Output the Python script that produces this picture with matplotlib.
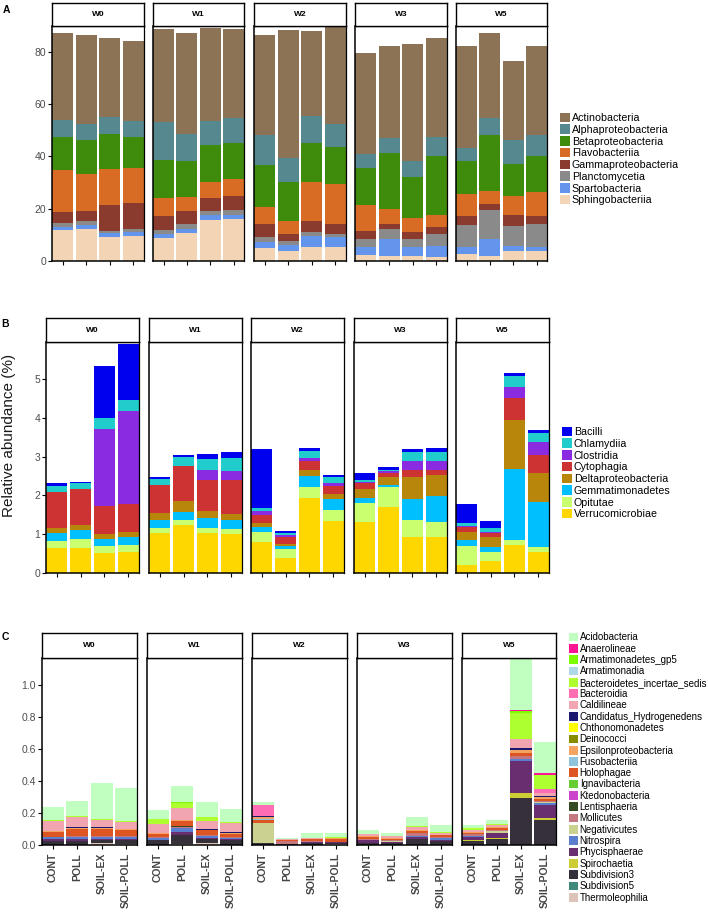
import numpy as np
import matplotlib
matplotlib.use("Agg")
import matplotlib.pyplot as plt
from matplotlib.patches import Patch

plt.rcParams['font.family'] = ['Liberation Sans', 'DejaVu Sans']

W, H = 708, 916

weeks = ["W0", "W1", "W2", "W3", "W5"]
treatments = ["CONT", "POLL", "SOIL-EX", "SOIL-POLL"]

# ---- panel A: dominant classes (%), 4 treatments per week ----
a_taxa = ["Actinobacteria", "Alphaproteobacteria", "Betaproteobacteria", "Flavobacteriia",
          "Gammaproteobacteria", "Planctomycetia", "Spartobacteria", "Sphingobacteriia"]
a_colors = ["#8c7356", "#56898f", "#3f8b0c", "#d86c24", "#8b3a2e", "#8a8a8a", "#6495ed", "#f3d4b5"]
actinobacteria = [33.4, 34.1, 30.3, 30.6, 35.6, 38.7, 35.7, 33.9, 38.0, 49.2, 32.7, 37.4,
                  38.4, 35.1, 44.8, 37.8, 38.8, 32.7, 30.2, 34.0]
alphaproteobacteria = [6.5, 6.4, 6.2, 6.2, 14.6, 10.3, 9.1, 9.7, 11.6, 9.0, 10.1, 8.7,
                       5.6, 5.9, 6.1, 7.2, 5.1, 6.4, 9.2, 7.9]
betaproteobacteria = [12.6, 12.8, 13.5, 12.1, 14.5, 13.9, 14.1, 13.5, 15.9, 15.1, 15.0, 14.5,
                      14.1, 21.4, 15.6, 22.7, 12.6, 21.4, 12.2, 14.0]
flavobacteriia = [16.2, 14.1, 13.7, 13.3, 6.8, 5.4, 6.1, 6.6, 6.8, 4.7, 15.1, 15.2,
                  10.0, 5.6, 5.3, 4.5, 8.3, 5.0, 7.4, 9.0]
gammaproteobacteria = [3.9, 3.9, 10.2, 9.7, 5.3, 5.1, 5.2, 5.4, 4.8, 2.7, 4.2, 3.9,
                       2.8, 2.1, 2.7, 2.8, 3.5, 2.2, 4.1, 3.3]
planctomycetia = [1.6, 1.7, 0.7, 1.4, 1.5, 1.9, 1.4, 1.8, 1.9, 1.7, 1.6, 1.1,
                  3.0, 3.9, 3.2, 4.3, 8.6, 11.1, 7.8, 8.8]
spartobacteria = [1.2, 1.5, 1.6, 1.4, 1.7, 1.5, 1.9, 1.6, 2.5, 2.1, 4.0, 3.7,
                  3.2, 6.4, 3.3, 4.2, 2.7, 6.6, 1.9, 1.4]
sphingobacteriia = [11.9, 12.1, 9.0, 9.6, 8.8, 10.6, 15.7, 16.1, 4.8, 4.0, 5.4, 5.4,
                    2.3, 1.9, 1.9, 1.7, 2.5, 1.9, 3.8, 3.8]

# ---- panel B: intermediate classes (%) ----
b_taxa = ["Bacilli", "Chlamydiia", "Clostridia", "Cytophagia", "Deltaproteobacteria",
          "Gemmatimonadetes", "Opitutae", "Verrucomicrobiae"]
b_colors = ["#0000ee", "#20cccc", "#8a2be2", "#cd3333", "#b8860b", "#00bfff", "#caff70", "#ffd700"]
bacilli = [0.06, 0.04, 1.34, 1.44, 0.05, 0.04, 0.15, 0.15, 1.53, 0.04, 0.09, 0.06,
           0.19, 0.07, 0.08, 0.11, 0.47, 0.20, 0.06, 0.07]
chlamydiia = [0.16, 0.15, 0.28, 0.27, 0.16, 0.23, 0.28, 0.32, 0.08, 0.06, 0.18, 0.15,
              0.05, 0.03, 0.23, 0.22, 0.10, 0.09, 0.30, 0.24]
clostridia = [0.00, 0.00, 1.98, 2.42, 0.00, 0.00, 0.25, 0.24, 0.11, 0.04, 0.07, 0.09,
              0.04, 0.05, 0.25, 0.25, 0.02, 0.02, 0.27, 0.34]
cytophagia = [0.93, 0.93, 0.73, 0.70, 0.73, 0.92, 0.80, 0.88, 0.21, 0.18, 0.24, 0.20,
              0.15, 0.12, 0.17, 0.11, 0.11, 0.12, 0.56, 0.45]
deltaproteobacteria = [0.14, 0.12, 0.14, 0.13, 0.16, 0.28, 0.17, 0.14, 0.09, 0.06, 0.15, 0.12,
                       0.22, 0.19, 0.56, 0.55, 0.22, 0.26, 1.28, 0.75]
gemmatimonadetes = [0.20, 0.25, 0.18, 0.21, 0.21, 0.19, 0.28, 0.25, 0.13, 0.09, 0.27, 0.30,
                    0.13, 0.07, 0.56, 0.68, 0.15, 0.11, 1.83, 1.18]
opitutae = [0.17, 0.22, 0.17, 0.18, 0.13, 0.13, 0.13, 0.12, 0.25, 0.23, 0.30, 0.28,
            0.49, 0.52, 0.43, 0.37, 0.49, 0.23, 0.13, 0.12]
verrucomicrobiae = [0.65, 0.65, 0.52, 0.55, 1.04, 1.25, 1.02, 1.01, 0.81, 0.38, 1.93, 1.34,
                    1.32, 1.69, 0.93, 0.94, 0.21, 0.32, 0.72, 0.54]

# ---- panel C: rare classes (%) ----
c_taxa = ["Acidobacteria", "Anaerolineae", "Armatimonadetes_gp5", "Armatimonadia",
          "Bacteroidetes_incertae_sedis", "Bacteroidia", "Caldilineae", "Candidatus_Hydrogenedens",
          "Chthonomonadetes", "Deinococci", "Epsilonproteobacteria", "Fusobacteriia", "Holophagae",
          "Ignavibacteria", "Ktedonobacteria", "Lentisphaeria", "Mollicutes", "Negativicutes",
          "Nitrospira", "Phycisphaerae", "Spirochaetia", "Subdivision3", "Subdivision5",
          "Thermoleophilia"]
c_colors = ["#c1ffc1", "#ff1493", "#7cfc00", "#add8e6", "#adff2f", "#ff6eb4", "#f0a5b0", "#191970",
            "#ffff00", "#8b8b00", "#f4a460", "#8ec5dc", "#dd5522", "#66cd33", "#cc44cc", "#354a21",
            "#c4777f", "#cbd18e", "#5a7fcf", "#692e6f", "#cccc33", "#35303a", "#3f8a7a", "#dcc4b8"]
acidobacteria = [0.080, 0.094, 0.228, 0.206, 0.059, 0.102, 0.098, 0.083, 0.021, 0.010, 0.031, 0.027,
                 0.025, 0.021, 0.056, 0.044, 0.021, 0.023, 0.318, 0.197]
anaerolineae = [0, 0, 0, 0, 0, 0, 0, 0, 0, 0, 0, 0, 0, 0, 0, 0, 0, 0, 0.010, 0.008]
armatimonadetes_gp5 = [0, 0, 0, 0, 0, 0.003, 0, 0, 0, 0, 0, 0, 0, 0, 0, 0, 0, 0, 0.010, 0]
armatimonadia = [0, 0, 0, 0, 0, 0, 0, 0, 0, 0, 0, 0, 0, 0, 0, 0, 0, 0, 0.002, 0.002]
bacteroidetes_incertae_sedis = [0.005, 0.006, 0.005, 0.004, 0.029, 0.033, 0.023, 0.006, 0, 0, 0, 0.004,
                                0, 0, 0.006, 0.004, 0.010, 0.008, 0.160, 0.090]
bacteroidia = [0, 0, 0, 0, 0, 0, 0, 0, 0.070, 0, 0, 0, 0, 0, 0, 0, 0, 0, 0, 0.020]
caldilineae = [0.062, 0.067, 0.045, 0.043, 0.054, 0.075, 0.050, 0.060, 0, 0.005, 0.006, 0,
               0.008, 0.008, 0.020, 0.012, 0.010, 0.012, 0.056, 0.020]
candidatus_hydrogenedens = [0.004, 0.004, 0.004, 0.004, 0.004, 0, 0.004, 0.004, 0.004, 0, 0, 0,
                            0, 0, 0, 0, 0, 0, 0.012, 0.008]
chthonomonadetes = [0, 0, 0, 0, 0, 0, 0, 0, 0, 0, 0, 0, 0, 0, 0, 0, 0, 0, 0.003, 0]
deinococci = [0, 0, 0, 0, 0, 0, 0, 0, 0, 0, 0, 0, 0, 0, 0, 0, 0, 0, 0, 0]
epsilonproteobacteria = [0.004, 0.005, 0.005, 0.005, 0.004, 0.005, 0.005, 0.005, 0.012, 0, 0, 0.010,
                         0.006, 0.006, 0.006, 0.004, 0.006, 0.006, 0.015, 0.010]
fusobacteriia = [0, 0, 0, 0, 0, 0, 0, 0, 0.010, 0, 0, 0, 0, 0, 0, 0, 0, 0, 0, 0]
holophagae = [0.035, 0.044, 0.045, 0.038, 0.021, 0.034, 0.031, 0.020, 0.017, 0.005, 0.008, 0.020,
              0.012, 0.010, 0.012, 0.010, 0.010, 0.015, 0.021, 0.012]
ignavibacteria = [0] * 20
ktedonobacteria = [0] * 20
lentisphaeria = [0, 0, 0, 0, 0, 0.004, 0, 0, 0, 0, 0, 0, 0, 0, 0, 0, 0, 0, 0, 0]
mollicutes = [0, 0.005, 0.010, 0.008, 0.006, 0.008, 0.006, 0.006, 0, 0.020, 0.012, 0,
              0.008, 0.008, 0.020, 0.010, 0.012, 0.008, 0.017, 0.012]
negativicutes = [0, 0, 0, 0, 0, 0, 0, 0, 0.125, 0, 0, 0, 0, 0.004, 0, 0, 0, 0.008, 0, 0.006]
nitrospira = [0.012, 0.016, 0.010, 0.010, 0.008, 0.027, 0.008, 0.008, 0, 0, 0, 0,
              0, 0, 0.006, 0.008, 0.006, 0, 0.015, 0.010]
phycisphaerae = [0.008, 0.008, 0.008, 0.008, 0.004, 0.014, 0.006, 0.006, 0, 0, 0.006, 0.004,
                 0.020, 0.008, 0.010, 0.008, 0.021, 0.031, 0.198, 0.080]
spirochaetia = [0, 0, 0, 0, 0, 0, 0, 0, 0, 0, 0, 0, 0, 0, 0, 0, 0.004, 0.006, 0.031, 0.012]
subdivision3 = [0.027, 0.028, 0.020, 0.025, 0.030, 0.060, 0.030, 0.030, 0.012, 0.005, 0.010, 0.008,
                0.012, 0.010, 0.040, 0.025, 0.025, 0.040, 0.296, 0.158]
subdivision5 = [0] * 20
thermoleophilia = [0, 0, 0.010, 0.005, 0, 0.005, 0.010, 0, 0, 0, 0, 0.004,
                   0, 0, 0, 0, 0, 0, 0, 0]

a_values = dict(zip(a_taxa, [actinobacteria, alphaproteobacteria, betaproteobacteria, flavobacteriia,
                             gammaproteobacteria, planctomycetia, spartobacteria, sphingobacteriia]))
b_values = dict(zip(b_taxa, [bacilli, chlamydiia, clostridia, cytophagia, deltaproteobacteria,
                             gemmatimonadetes, opitutae, verrucomicrobiae]))
c_values = dict(zip(c_taxa, [acidobacteria, anaerolineae, armatimonadetes_gp5, armatimonadia,
                             bacteroidetes_incertae_sedis, bacteroidia, caldilineae,
                             candidatus_hydrogenedens, chthonomonadetes, deinococci,
                             epsilonproteobacteria, fusobacteriia, holophagae, ignavibacteria,
                             ktedonobacteria, lentisphaeria, mollicutes, negativicutes, nitrospira,
                             phycisphaerae, spirochaetia, subdivision3, subdivision5, thermoleophilia]))

fig = plt.figure(figsize=(W / 100, H / 100), dpi=100)


def px_box(x0, x1, y0, y1):
    return [x0 / W, 1 - y1 / H, (x1 - x0) / W, (y1 - y0) / H]


def facet_row(xs, strip_y, plot_y, taxa, colors, values, ylim, yticks, yfmt, xlabels):
    xpos = np.arange(1, 5)
    for i, (wk, (x0, x1)) in enumerate(zip(weeks, xs)):
        ax = fig.add_axes(px_box(x0, x1, plot_y[0], plot_y[1]))
        bottom = np.zeros(4)
        # first legend entry ends up on top of the stack
        for name, col in zip(reversed(taxa), reversed(colors)):
            v = np.array(values[name][4 * i:4 * i + 4], dtype=float)
            ax.bar(xpos, v, width=0.9, bottom=bottom, color=col, linewidth=0)
            bottom += v
        ax.set_xlim(0.55, 4.45)
        ax.set_ylim(*ylim)
        ax.set_xticks(xpos)
        if xlabels:
            ax.set_xticklabels(treatments, rotation=90, fontsize=7.6, fontweight='bold',
                               color='#444444')
        else:
            ax.set_xticklabels([])
        if i == 0:
            ax.set_yticks(yticks)
            ax.set_yticklabels([yfmt.format(t) for t in yticks])
        else:
            ax.set_yticks([])
        ax.tick_params(length=2.8, width=0.8, color='black', labelcolor='#4d4d4d',
                       labelsize=7.5, pad=1.5)
        ax.tick_params(axis='x', pad=3, labelcolor='#444444')
        for s in ax.spines.values():
            s.set_linewidth(0.9)
            s.set_color('black')
        ax.spines['left'].set_linewidth(1.1)
        ax.spines['bottom'].set_linewidth(1.1)

        sax = fig.add_axes(px_box(x0, x1, strip_y[0], strip_y[1]))
        sax.set_xticks([])
        sax.set_yticks([])
        for s in sax.spines.values():
            s.set_linewidth(1.0)
        sax.text(0.5, 0.5, wk, ha='center', va='center', fontsize=6, fontweight='bold',
                 transform=sax.transAxes)


def add_legend(taxa, colors, x_px, yc_px, spacing, size):
    handles = [Patch(facecolor=c, edgecolor='none') for c in colors]
    fig.legend(handles, taxa, loc='center left', bbox_to_anchor=(x_px / W, 1 - yc_px / H),
               frameon=False, fontsize=size, handlelength=0.95, handleheight=1.0,
               handletextpad=0.15, labelspacing=spacing, borderpad=0, borderaxespad=0)


# A
facet_row([(52, 144), (153, 244), (254, 346), (355, 447), (456, 547)], (3, 26), (26, 261),
          a_taxa, a_colors, a_values, (0, 89.9), [0, 20, 40, 60, 80], "{:d}", False)
add_legend(a_taxa, a_colors, 560, 159, 0.12, 7.7)

# B
facet_row([(46, 139), (149, 242), (251, 344), (354, 447), (456, 549)], (318, 342), (342, 573),
          b_taxa, b_colors, b_values, (0, 5.96), [0, 1, 2, 3, 4, 5], "{:d}", False)
add_legend(b_taxa, b_colors, 562, 473, 0.12, 7.7)

# C
facet_row([(42, 137), (147, 242), (252, 347), (357, 452), (462, 556)], (633, 658), (658, 845),
          c_taxa, c_colors, c_values, (0, 1.17), [0.0, 0.2, 0.4, 0.6, 0.8, 1.0], "{:.1f}", True)
add_legend(c_taxa, c_colors, 569, 767.5, 0.135, 7.0)

fig.text(3 / W, 1 - 5 / H, "A", fontsize=7.5, fontweight='bold', va='top')
fig.text(1 / W, 1 - 319 / H, "B", fontsize=7.5, fontweight='bold', va='top')
fig.text(2 / W, 1 - 632 / H, "C", fontsize=7.5, fontweight='bold', va='top')
fig.text(2 / W, 1 - 435 / H, "Relative abundance (%)", rotation=90, ha='left', va='center',
         fontsize=11, color='#1a1a1a')

fig.savefig("out.png", dpi=100)
